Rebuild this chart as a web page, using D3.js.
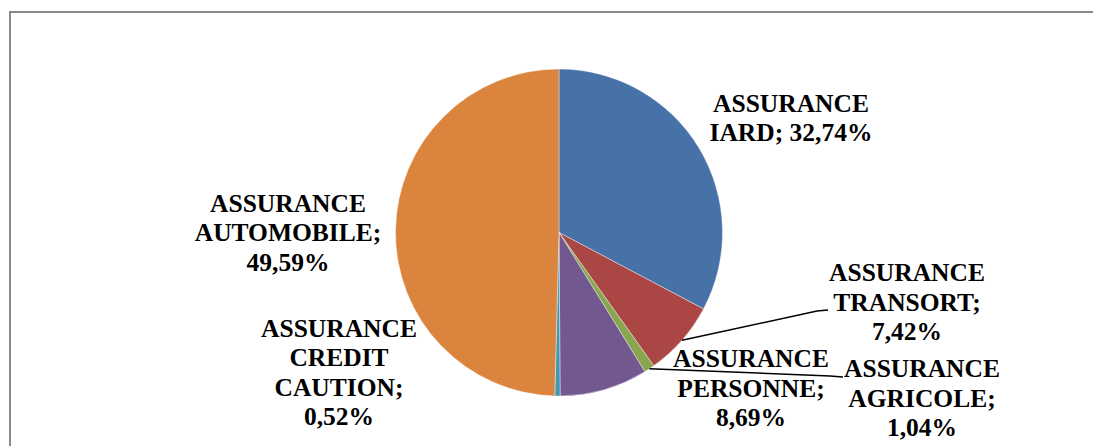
<!DOCTYPE html>
<html>
<head>
<meta charset="utf-8">
<script src="https://cdn.jsdelivr.net/npm/d3@7"></script>
<style>
  html, body { margin: 0; padding: 0; background: #fff; overflow: hidden; }
  svg { display: block; }
</style>
</head>
<body>
<svg id="chart" width="1093" height="446"></svg>
<script>
// Répartition du portefeuille par branche d'assurance (%)
const categories = [
  "ASSURANCE IARD",
  "ASSURANCE TRANSORT",
  "ASSURANCE AGRICOLE",
  "ASSURANCE PERSONNE",
  "ASSURANCE CREDIT CAUTION",
  "ASSURANCE AUTOMOBILE"
];
const shares = [32.74, 7.42, 1.04, 8.69, 0.52, 49.59];
const sliceColors = ["#4672A8", "#AA4643", "#89A54E", "#71588F", "#4198AF", "#DB843D"];

// Label text broken into lines, one entry per category
const labelLines = [
  ["ASSURANCE", "IARD; {v}"],
  ["ASSURANCE", "TRANSORT;", "{v}"],
  ["ASSURANCE", "AGRICOLE;", "{v}"],
  ["ASSURANCE", "PERSONNE;", "{v}"],
  ["ASSURANCE", "CREDIT", "CAUTION;", "{v}"],
  ["ASSURANCE", "AUTOMOBILE;", "{v}"]
];

// Layout: label anchors (centre x, first baseline) and optional leader bends
const labelLayout = [
  { x: 791, y: 111.5, leader: null },
  { x: 907, y: 281,   leader: [[817, 311], [828, 310]] },
  { x: 922, y: 377,   leader: [[830, 376], [843, 377]] },
  { x: 751, y: 367,   leader: null },
  { x: 339, y: 336.5, leader: null },
  { x: 288, y: 211.5, leader: null }
];

const fmt = v => v.toFixed(2).replace(".", ",") + "%";

const svg = d3.select("#chart");
const cx = 559, cy = 232.5, radius = 163.5;
const lineGap = 29.5;

// Chart area frame
svg.append("rect")
  .attr("x", 10).attr("y", 12)
  .attr("width", 1200).attr("height", 600)
  .attr("fill", "none")
  .attr("stroke", "#898989")
  .attr("stroke-width", 2);

const data = categories.map((c, i) => ({ name: c, value: shares[i], i }));

const pie = d3.pie().sort(null).value(d => d.value);
const arcs = pie(data);
const arc = d3.arc().innerRadius(0).outerRadius(radius);
const edgeArc = d3.arc().innerRadius(radius).outerRadius(radius);

const g = svg.append("g").attr("transform", `translate(${cx},${cy})`);

g.selectAll("path.slice")
  .data(arcs)
  .join("path")
  .attr("class", "slice")
  .attr("d", arc)
  .attr("fill", d => sliceColors[d.data.i])
  .attr("stroke", "#ffffff")
  .attr("stroke-width", 0.4);

// Leader lines from the slice rim to the label
const line = d3.line();
arcs.forEach(d => {
  const lay = labelLayout[d.data.i];
  if (!lay.leader) return;
  const [ex, ey] = edgeArc.centroid(d);
  const pts = [[cx + ex, cy + ey]].concat(lay.leader);
  svg.append("path")
    .attr("d", line(pts))
    .attr("fill", "none")
    .attr("stroke", "#000")
    .attr("stroke-width", 1.5);
});

// Data labels
arcs.forEach(d => {
  const lay = labelLayout[d.data.i];
  const t = svg.append("text")
    .attr("text-anchor", "middle")
    .attr("font-family", "'Liberation Serif', 'Times New Roman', serif")
    .attr("font-weight", "bold")
    .attr("font-size", 25.5)
    .attr("fill", "#000");
  labelLines[d.data.i].forEach((ln, k) => {
    t.append("tspan")
      .attr("x", lay.x)
      .attr("y", lay.y + k * lineGap)
      .text(ln.replace("{v}", fmt(d.data.value)));
  });
});
</script>
</body>
</html>
